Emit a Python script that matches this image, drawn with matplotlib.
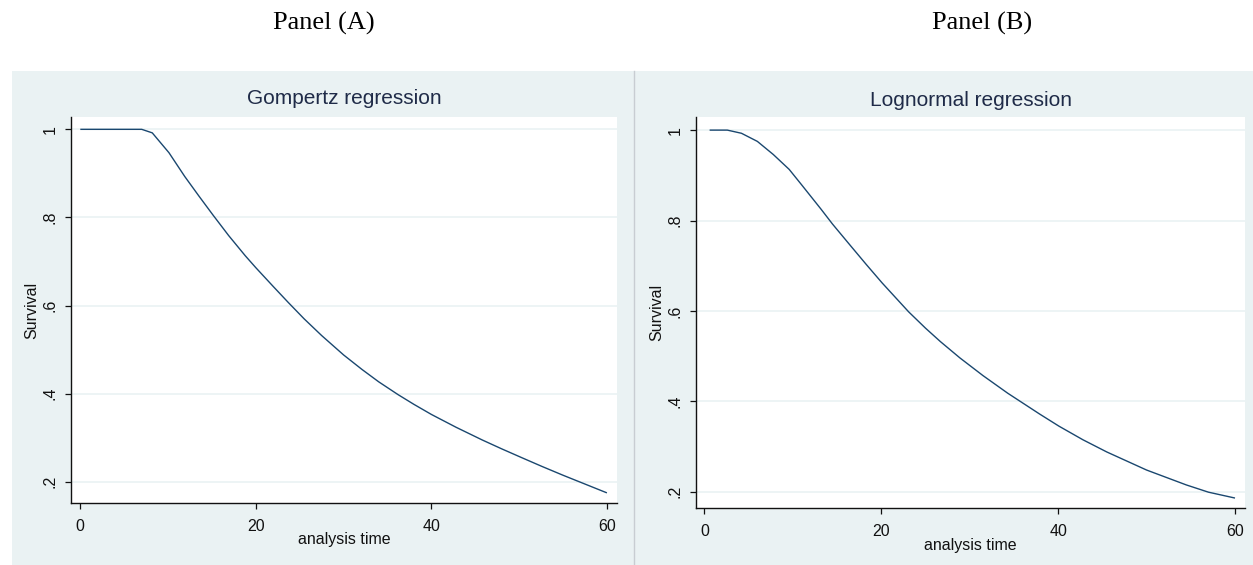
import matplotlib
matplotlib.use("Agg")
import matplotlib.pyplot as plt
from matplotlib.patches import Rectangle
from matplotlib.lines import Line2D

# ---- data ----
gompertz_time = [0, 7.0, 8.2, 10.1, 11.9, 13.5, 15.1, 16.9, 18.8, 20.0, 22.0,
                 23.7, 25.5, 27.5, 30.0, 32.1, 34.0, 36.2, 38.0, 40.0, 42.8,
                 45.8, 48.0, 50.4, 52.6, 55.0, 57.5, 60.0]
gompertz_surv = [1.0, 1.0, 0.992, 0.947, 0.893, 0.849, 0.806, 0.759, 0.713, 0.686,
                 0.643, 0.607, 0.570, 0.532, 0.488, 0.455, 0.427, 0.398, 0.376,
                 0.353, 0.324, 0.295, 0.275, 0.254, 0.235, 0.215, 0.195, 0.175]

lognormal_time = [0.6, 2.6, 4.2, 6.0, 7.8, 9.6, 11.0, 13.2, 14.5, 16.5, 18.3,
                  20.1, 23.1, 25.0, 26.7, 28.9, 31.5, 34.3, 37.9, 40.1, 42.8,
                  45.5, 50.0, 54.5, 57.0, 60.0]
lognormal_surv = [1.0, 1.0, 0.993, 0.975, 0.946, 0.913, 0.879, 0.825, 0.792, 0.745,
                  0.703, 0.662, 0.598, 0.562, 0.532, 0.496, 0.457, 0.418, 0.372,
                  0.345, 0.315, 0.288, 0.248, 0.215, 0.199, 0.186]

x_ticks = [0, 20, 40, 60]
x_ticklabels = ["0", "20", "40", "60"]
y_ticks = [0.2, 0.4, 0.6, 0.8, 1.0]
y_ticklabels = [".2", ".4", ".6", ".8", "1"]

panel_titles = ["Panel (A)", "Panel (B)"]
chart_titles = ["Gompertz regression", "Lognormal regression"]
x_label = "analysis time"
y_label = "Survival"

# ---- styling ----
W, H = 1253, 565
BG = "#EAF2F3"
LINE = "#1A476F"
TXT = "#111111"
TITLE = "#1f2b48"
SANS = "Liberation Sans"

fig = plt.figure(figsize=(W / 100, H / 100), dpi=100)
fig.patch.set_facecolor("white")


def px_rect(x0, y0, x1, y1):
    return [x0 / W, 1 - y1 / H, (x1 - x0) / W, (y1 - y0) / H]


# grey plot regions (drawn beneath the axes)
fig.patches.append(Rectangle((12 / W, 0), (634 - 12) / W, 1 - 71 / H,
                             transform=fig.transFigure, facecolor=BG,
                             edgecolor="none", zorder=-10))
fig.patches.append(Rectangle((634 / W, 0), (W - 634) / W, 1 - 71 / H,
                             transform=fig.transFigure, facecolor=BG,
                             edgecolor="none", zorder=-10))
fig.lines.append(Line2D([634.5 / W, 634.5 / W], [0, 1 - 71 / H],
                        transform=fig.transFigure, color="#c8cdd2", lw=1.0,
                        zorder=-5))

panels = [
    dict(rect=px_rect(71, 117, 617, 503), xlim=(-1.06, 61.15), ylim=(0.152, 1.028),
         t=gompertz_time, s=gompertz_surv, head_x=324, title_y=99),
    dict(rect=px_rect(696, 117, 1245, 508), xlim=(-0.94, 61.13), ylim=(0.164, 1.029),
         t=lognormal_time, s=lognormal_surv, head_x=982, title_y=100),
]

for i, p in enumerate(panels):
    ax = fig.add_axes(p["rect"])
    ax.set_zorder(1)
    ax.set_facecolor("white")
    ax.plot(p["t"], p["s"], color=LINE, lw=1.0, solid_capstyle="butt",
            solid_joinstyle="round")
    ax.set_xlim(*p["xlim"])
    ax.set_ylim(*p["ylim"])
    ax.set_xticks(x_ticks)
    ax.set_xticklabels(x_ticklabels)
    ax.set_yticks(y_ticks)
    ax.set_yticklabels(y_ticklabels, rotation=90, va="center", ha="right")
    ax.grid(axis="y", color=BG, lw=1.2)
    ax.set_axisbelow(True)
    for side in ("top", "right"):
        ax.spines[side].set_visible(False)
    for side in ("left", "bottom"):
        ax.spines[side].set_color("#111111")
        ax.spines[side].set_linewidth(1.0)
    ax.tick_params(axis="both", direction="out", length=4.5, width=0.9,
                   color="#111111", labelsize=11.5, labelcolor=TXT)
    ax.tick_params(axis="x", pad=7)
    ax.tick_params(axis="y", pad=5)
    for lab in ax.get_xticklabels() + ax.get_yticklabels():
        lab.set_fontfamily(SANS)

    ax.set_xlabel(x_label, fontsize=11.5, family=SANS, color=TXT)
    ax.xaxis.set_label_coords(0.5, -0.095)
    ax.xaxis.label.set_va("center")
    ax.set_ylabel(y_label, fontsize=11.5, family=SANS, color=TXT)
    ax.yaxis.set_label_coords(-0.071, 0.5)
    ax.yaxis.label.set_va("center")

    # chart title centred on the plot area
    cx = (p["rect"][0] + p["rect"][2] / 2)
    fig.text(cx, 1 - p["title_y"] / H, chart_titles[i], ha="center", va="center",
             fontsize=15, family=SANS, color=TITLE)
    # panel heading
    fig.text(p["head_x"] / W, 1 - 23 / H, panel_titles[i], ha="center", va="center",
             fontsize=19, family="Liberation Serif", color="black")

fig.savefig("out.png", dpi=100, facecolor="white")
